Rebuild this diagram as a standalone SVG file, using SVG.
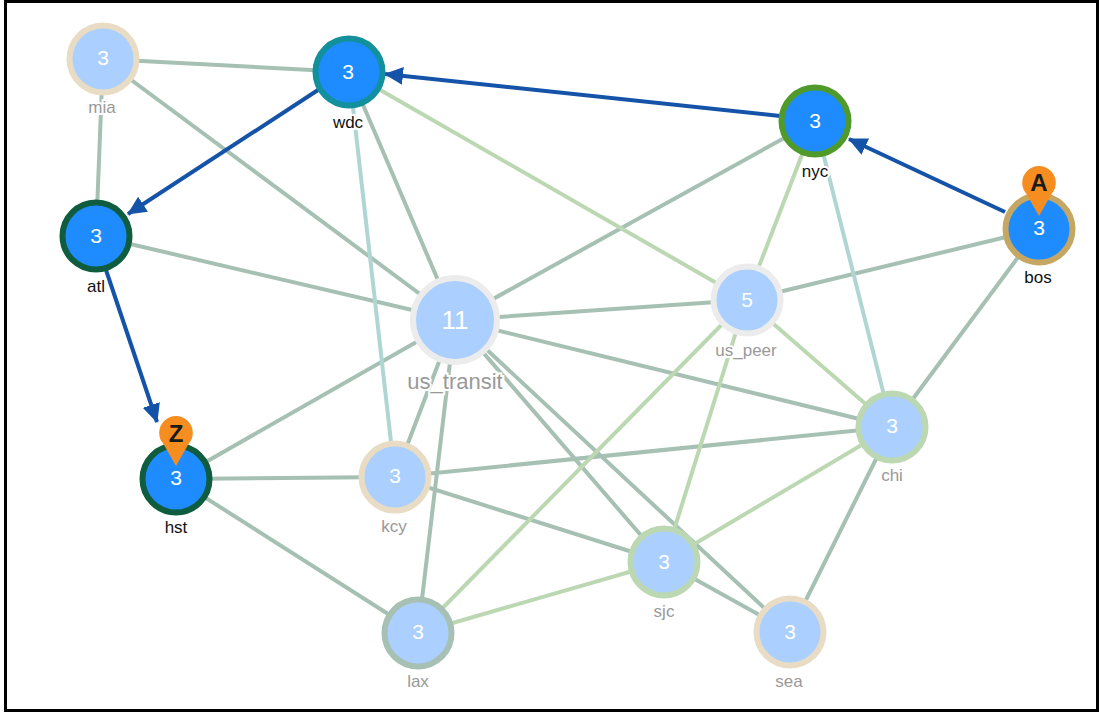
<svg xmlns="http://www.w3.org/2000/svg" width="1101" height="714" viewBox="0 0 1101 714">
<style>
.e{fill:none;stroke-width:4;stroke-linecap:butt}
.g{stroke:#a6c0b4}.l{stroke:#bcd8b2}.b{stroke:#b0d6d4}
.p{stroke:#1553a8;stroke-width:4;fill:none}
.n{stroke-width:6}
.hi{fill:#1e8cff}.lo{fill:#abcfff}
.v{font-family:"Liberation Sans",Arial,sans-serif;font-size:21px;fill:#fff;text-anchor:middle}
.t{font-family:"Liberation Sans",Arial,sans-serif;font-size:17px;text-anchor:middle;paint-order:stroke;stroke:#fff;stroke-width:4px}
.dk{fill:#111}.gy{fill:#999}
.m{font-family:"Liberation Sans",Arial,sans-serif;font-size:24px;font-weight:bold;fill:#1a1a1a;text-anchor:middle}
</style>
<defs>
<marker id="a" markerUnits="userSpaceOnUse" markerWidth="20" markerHeight="20" refX="18" refY="10" orient="auto"><path d="M0 1L19 10L0 19Z" fill="#1553a8"/></marker>
<path id="pin" d="M0 0L-12.500 -22A16.800 16.800 0 1 1 12.500 -22Z" fill="#f68d21"/>
</defs>
<rect width="1101" height="714" fill="#fff"/>
<g id="connectors">
<path class="e g" d="M103 59L349 72M103 59L96 236M103 59L455 320M349 72L455 320M815 121L455 320M1039 229L746 300M1039 229L892 427M96 236L455 320M176 479L455 320M176 479L395 477M176 479L418 633M395 477L455 320M395 477L892 427M395 477L664 562M455 320L418 633M455 320L664 562M455 320L790 632M455 320L892 427M455 320L746 300M892 427L790 632M664 562L790 632"/>
<path class="e b" d="M349 72L395 477M815 121L892 427"/>
<path class="e l" d="M349 72L746 300M815 121L746 300M746 300L892 427M746 300L418 633M746 300L664 562M892 427L664 562M664 562L418 633"/>
<path class="p" marker-end="url(#a)" d="M1005 212L849 139"/>
<path class="p" marker-end="url(#a)" d="M780 116L385 74"/>
<path class="p" marker-end="url(#a)" d="M318 90L128 214"/>
<path class="p" marker-end="url(#a)" d="M106 270L157 422"/>
</g>
<g id="mia"><circle class="n lo" cx="103" cy="59" r="33.500" stroke="#e8dcc4"/><text class="v" x="103" y="65">3</text><text class="t gy" x="102" y="113">mia</text></g>
<g id="wdc"><circle class="n hi" cx="349" cy="72" r="33.500" stroke="#12909c"/><text class="v" x="348" y="79">3</text><text class="t dk" x="348" y="128">wdc</text></g>
<g id="nyc"><circle class="n hi" cx="815" cy="121" r="33.500" stroke="#4f9a2a"/><text class="v" x="815" y="128">3</text><text class="t dk" x="815" y="177">nyc</text></g>
<g id="bos"><circle class="n hi" cx="1039" cy="229" r="33.500" stroke="#c5a763"/><text class="v" x="1039" y="235">3</text><text class="t dk" x="1038" y="283">bos</text><use href="#pin" x="1039" y="216"/><text class="m" x="1039" y="191">A</text></g>
<g id="atl"><circle class="n hi" cx="96" cy="236" r="33.500" stroke="#0f5c3f"/><text class="v" x="96" y="243">3</text><text class="t dk" x="96" y="292">atl</text></g>
<g id="us_transit"><circle class="n lo" cx="455" cy="320" r="42" stroke="#ececec"/><text class="v" x="455" y="329" style="font-size:26px">11</text><text class="t gy" x="455" y="389" style="font-size:22px">us_transit</text></g>
<g id="us_peer"><circle class="n lo" cx="747" cy="300" r="33.500" stroke="#ececec"/><text class="v" x="747" y="307">5</text><text class="t gy" x="746" y="356">us_peer</text></g>
<g id="chi"><circle class="n lo" cx="892" cy="427" r="33.500" stroke="#bcd8b2"/><text class="v" x="892" y="433">3</text><text class="t gy" x="892" y="481">chi</text></g>
<g id="kcy"><circle class="n lo" cx="395" cy="477" r="33.500" stroke="#e8dcc4"/><text class="v" x="395" y="483">3</text><text class="t gy" x="394" y="532">kcy</text></g>
<g id="hst"><circle class="n hi" cx="176" cy="479" r="33.500" stroke="#0f5c3f"/><text class="v" x="176" y="485">3</text><text class="t dk" x="176" y="533">hst</text><use href="#pin" x="176" y="466"/><text class="m" x="176" y="442">Z</text></g>
<g id="sjc"><circle class="n lo" cx="664" cy="562" r="33.500" stroke="#bcd8b2"/><text class="v" x="664" y="569">3</text><text class="t gy" x="664" y="617">sjc</text></g>
<g id="lax"><circle class="n lo" cx="418" cy="633" r="33.500" stroke="#a6c0b4"/><text class="v" x="418" y="639">3</text><text class="t gy" x="418" y="687">lax</text></g>
<g id="sea"><circle class="n lo" cx="790" cy="632" r="33.500" stroke="#e8dcc4"/><text class="v" x="790" y="639">3</text><text class="t gy" x="789" y="687">sea</text></g>
<rect x="5.500" y="1.500" width="1092" height="709" fill="none" stroke="#000" stroke-width="3"/>
</svg>
